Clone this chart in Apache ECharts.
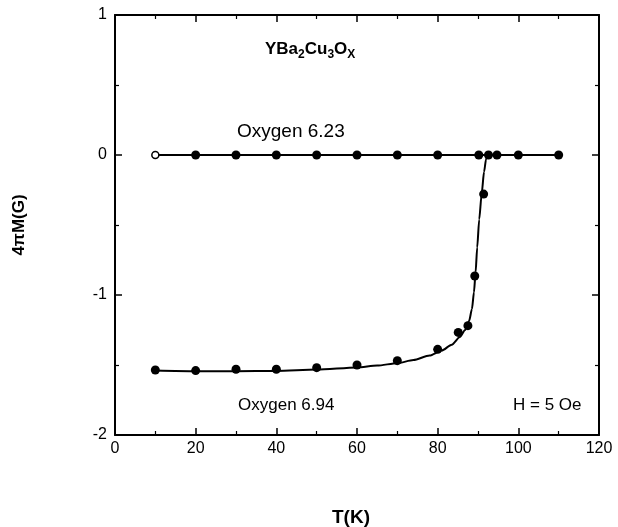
<!DOCTYPE html>
<html>
<head>
<meta charset="utf-8">
<script src="https://cdn.jsdelivr.net/npm/echarts@6/dist/echarts.min.js"></script>
<style>html,body{margin:0;padding:0;background:#fff}#c{width:618px;height:527px}</style>
</head>
<body>
<div id="c"></div>
<script>
// Data
var xTicks = [0, 20, 40, 60, 80, 100, 120];
var yTicks = [-2, -1, 0, 1];
var t623 = [10, 20, 30, 40, 50, 60, 70, 80, 90.2, 92.6, 94.7, 100, 110];
var m623 = [0, 0, 0, 0, 0, 0, 0, 0, 0, 0, 0, 0, 0];
var t694 = [10, 20, 30, 40, 50, 60, 70, 80, 85.1, 87.5, 89.2, 91.4];
var m694 = [-1.536, -1.54, -1.53, -1.53, -1.519, -1.50, -1.469, -1.388, -1.267, -1.219, -0.864, -0.279];
var tFit = [10, 20, 30, 40, 50, 60, 65, 70, 74, 78, 81, 83.5, 85.5, 86.8, 87.8, 88.5, 89.0, 89.4, 89.8, 90.3, 90.9, 91.5, 92.0, 92.4];
var mFit = [-1.54, -1.545, -1.545, -1.542, -1.533, -1.517, -1.504, -1.487, -1.465, -1.432, -1.397, -1.355, -1.30, -1.25, -1.185, -1.10, -0.98, -0.84, -0.66, -0.46, -0.28, -0.12, -0.03, 0];

function pairs(xs, ys) { return xs.map(function (x, i) { return [x, ys[i]]; }); }

var chart = echarts.init(document.getElementById('c'), null, { renderer: 'canvas' });
var font = 'Liberation Sans, Arial, Helvetica, sans-serif';
var axisCommon = {
  type: 'value',
  axisLine: { show: true, onZero: false, lineStyle: { color: '#000', width: 2 } },
  axisTick: { show: true, inside: true, length: 7, lineStyle: { color: '#000', width: 1.5 } },
  minorTick: { show: true, splitNumber: 2, length: 4, lineStyle: { color: '#000', width: 1.2 } },
  splitLine: { show: false },
  minorSplitLine: { show: false }
};
var d623 = pairs(t623, m623).map(function (p, i) {
  return i === 0 ? { value: p, itemStyle: { color: '#fff', borderColor: '#000', borderWidth: 1.5 }, symbolSize: 7 } : p;
});
chart.setOption({
  animation: false,
  backgroundColor: '#fff',
  grid: { left: 115, right: 19, top: 15, bottom: 92, containLabel: false, outerBoundsMode: 'none' },
  xAxis: [
    Object.assign({}, axisCommon, {
      min: 0, max: 120, interval: 20, position: 'bottom',
      axisLabel: { color: '#000', fontSize: 16, fontFamily: font, margin: 6 },
      name: 'T(K)', nameLocation: 'middle', nameGap: 73,
      nameTextStyle: { color: '#000', fontSize: 19, fontWeight: 'bold', fontFamily: font, padding: [0, 12, 0, 0] }
    }),
    Object.assign({}, axisCommon, {
      min: 0, max: 120, interval: 20, position: 'top',
      axisLabel: { show: false }
    })
  ],
  yAxis: [
    Object.assign({}, axisCommon, {
      min: -2, max: 1, interval: 1, position: 'left',
      axisLabel: { color: '#000', fontSize: 16, fontFamily: font, margin: 8 },
      name: '4πM(G)', nameLocation: 'middle', nameGap: 87,
      nameTextStyle: { color: '#000', fontSize: 17, fontWeight: 'bold', fontFamily: font }
    }),
    Object.assign({}, axisCommon, {
      min: -2, max: 1, interval: 1, position: 'right',
      axisLabel: { show: false }
    })
  ],
  series: [
    {
      name: 'Oxygen 6.23', type: 'line', data: d623,
      symbol: 'circle', symbolSize: 9,
      lineStyle: { color: '#000', width: 2 },
      itemStyle: { color: '#000', opacity: 1 }
    },
    {
      name: 'fit 6.94', type: 'line', data: pairs(tFit, mFit),
      smooth: 0.25, smoothMonotone: 'x', symbol: 'none',
      lineStyle: { color: '#000', width: 2 }
    },
    {
      name: 'Oxygen 6.94', type: 'scatter', data: pairs(t694, m694),
      symbol: 'circle', symbolSize: 9,
      itemStyle: { color: '#000', opacity: 1 }
    }
  ],
  graphic: [
    { type: 'text', left: 265, top: 41, style: {
      text: '{b|YBa}{s|2}{b|Cu}{s|3}{b|O}{s|X}',
      rich: {
        b: { fontSize: 17, fontWeight: 'bold', fontFamily: font, fill: '#000' },
        s: { fontSize: 12, fontWeight: 'bold', fontFamily: font, fill: '#000', padding: [11, 0, 0, 0] }
      }
    } },
    { type: 'text', left: 237, top: 122, style: { text: 'Oxygen 6.23', fontSize: 19, fontFamily: font, fill: '#000' } },
    { type: 'text', left: 238, top: 397, style: { text: 'Oxygen 6.94', fontSize: 17, fontFamily: font, fill: '#000' } },
    { type: 'text', left: 513, top: 397, style: { text: 'H = 5 Oe', fontSize: 17, fontFamily: font, fill: '#000' } }
  ]
});
</script>
</body>
</html>
